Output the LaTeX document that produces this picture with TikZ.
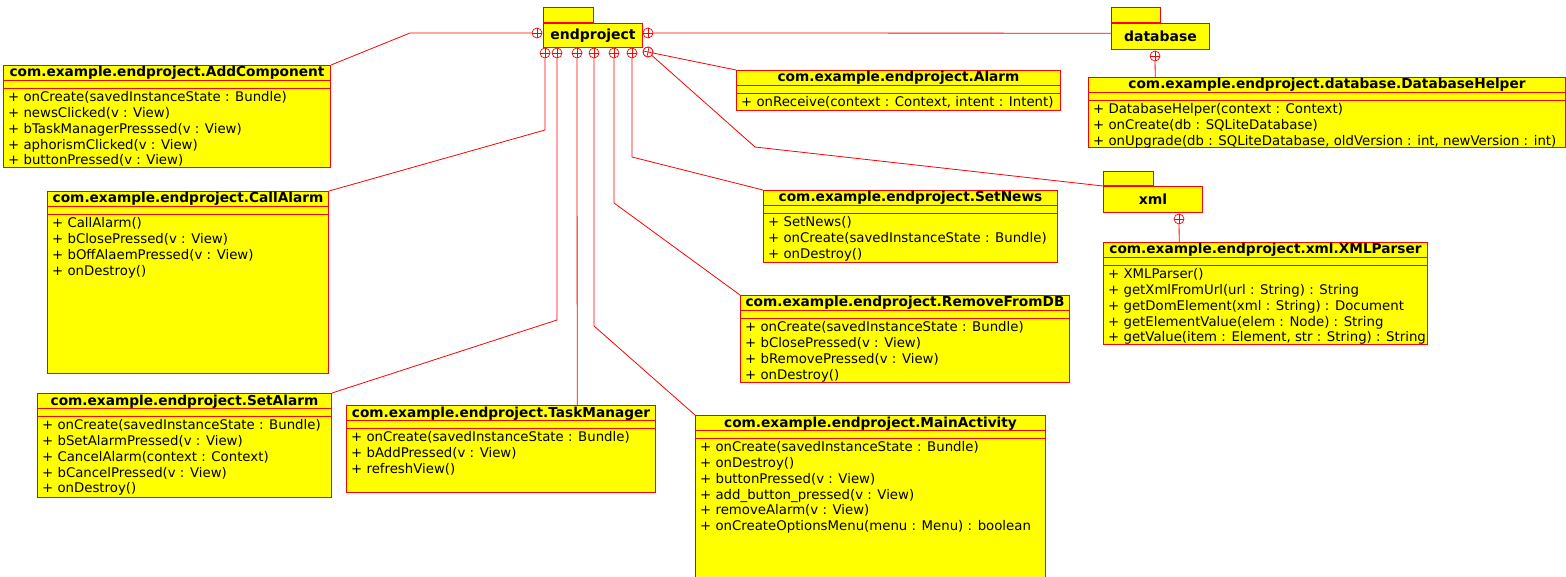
\documentclass[tikz,border=0pt]{standalone}
\usepackage{fontspec}
\setmainfont{DejaVu Sans}
\usetikzlibrary{positioning}

\definecolor{umlred}{RGB}{255,0,0}
\definecolor{umlyellow}{RGB}{255,255,0}

\tikzset{
  umlline/.style={draw=umlred, line width=0.8pt},
  classbox/.style={draw=umlred, fill=umlyellow, line width=1pt, inner sep=0pt},
  classtitle/.style={inner sep=0pt, font=\fontsize{13.7}{15.8}\selectfont\bfseries},
  classops/.style={inner sep=0pt, align=left, font=\fontsize{13.3}{15.8}\selectfont},
  pkgbody/.style={draw=umlred, fill=umlyellow, line width=1pt, inner sep=0pt,
    font=\fontsize{14}{16}\selectfont\bfseries},
  pkgtab/.style={draw=umlred, fill=umlyellow, line width=1pt},
  nest/.style={circle, draw=umlred, fill=white, line width=0.7pt, inner sep=0pt, minimum size=10pt}
}

% class box: name, corner, width, height, title, operations
\newcommand{\umlclass}[6]{%
  \node[classbox, minimum width=#3pt, minimum height=#4pt, anchor=north west] (#1) at #2 {};
  \draw[umlline] ([yshift=-15pt]#1.north west) -- ([yshift=-15pt]#1.north east)
                 ([yshift=-23pt]#1.north west) -- ([yshift=-23pt]#1.north east);
  \node[classtitle, anchor=base] at ([yshift=-12pt]#1.north) {#5};
  \node[classops, anchor=north west] at ([xshift=5pt,yshift=-25.5pt]#1.north west) {\strut#6};
}
% nesting symbol: name, centre, rotation
\newcommand{\nestmark}[3]{%
  \node[nest, rotate=#3] (#1) at #2 {};
  \draw[umlline, line width=0.7pt] (#1.north) -- (#1.south) (#1.east) -- (#1.west);
}

\begin{document}
\begin{tikzpicture}[x=1pt, y=-1pt]
  \useasboundingbox (0,0) rectangle (1566,577);

  %% Packages
  \node[pkgbody, minimum width=99pt, minimum height=24pt, anchor=north west] (endproject) at (543,23) {endproject};
  \draw[pkgtab] (endproject.north west) rectangle ++(50,-15);
  \node[pkgbody, minimum width=98pt, minimum height=26pt, anchor=north west] (database) at (1111,23) {database};
  \draw[pkgtab] (database.north west) rectangle ++(49,-15);
  \node[pkgbody, minimum width=99pt, minimum height=26pt, anchor=north west] (xml) at (1103,186) {xml};
  \draw[pkgtab] (xml.north west) rectangle ++(50,-14);

  %% Classes
  \umlclass{addcomp}{(3,65)}{327}{102}{com.example.endproject.AddComponent}
    {+ onCreate(savedInstanceState : Bundle)\\+ newsClicked(v : View)\\+ bTaskManagerPresssed(v : View)\\+ aphorismClicked(v : View)\\+ buttonPressed(v : View)}
  \umlclass{callalarm}{(47,191)}{281}{182}{com.example.endproject.CallAlarm}
    {+ CallAlarm()\\+ bClosePressed(v : View)\\+ bOffAlaemPressed(v : View)\\+ onDestroy()}
  \umlclass{setalarm}{(37,393)}{294}{104}{com.example.endproject.SetAlarm}
    {+ onCreate(savedInstanceState : Bundle)\\+ bSetAlarmPressed(v : View)\\+ CancelAlarm(context : Context)\\+ bCancelPressed(v : View)\\+ onDestroy()}
  \umlclass{taskman}{(346,405)}{309}{87}{com.example.endproject.TaskManager}
    {+ onCreate(savedInstanceState : Bundle)\\+ bAddPressed(v : View)\\+ refreshView()}
  \umlclass{mainact}{(695,415)}{350}{163}{com.example.endproject.MainActivity}
    {+ onCreate(savedInstanceState : Bundle)\\+ onDestroy()\\+ buttonPressed(v : View)\\+ add\_button\_pressed(v : View)\\+ removeAlarm(v : View)\\+ onCreateOptionsMenu(menu : Menu) : boolean}
  \umlclass{removedb}{(740,295)}{329}{87}{com.example.endproject.RemoveFromDB}
    {+ onCreate(savedInstanceState : Bundle)\\+ bClosePressed(v : View)\\+ bRemovePressed(v : View)\\+ onDestroy()}
  \umlclass{setnews}{(763,190)}{294}{72}{com.example.endproject.SetNews}
    {+ SetNews()\\+ onCreate(savedInstanceState : Bundle)\\+ onDestroy()}
  \umlclass{alarm}{(736,70)}{324}{40}{com.example.endproject.Alarm}
    {+ onReceive(context : Context, intent : Intent)}
  \umlclass{dbhelper}{(1088,77)}{477}{70}{com.example.endproject.database.DatabaseHelper}
    {+ DatabaseHelper(context : Context)\\+ onCreate(db : SQLiteDatabase)\\+ onUpgrade(db : SQLiteDatabase, oldVersion : int, newVersion : int)}
  \umlclass{xmlparser}{(1103,242)}{324}{102}{com.example.endproject.xml.XMLParser}
    {+ XMLParser()\\+ getXmlFromUrl(url : String) : String\\+ getDomElement(xml : String) : Document\\+ getElementValue(elem : Node) : String\\+ getValue(item : Element, str : String) : String}

  %% Nesting connectors
  \nestmark{nAdd}{(537,33)}{0}
  \nestmark{nDbPkg}{(648,33)}{0}
  \nestmark{nCall}{(545,53)}{0}
  \nestmark{nSetAlarm}{(557,53)}{0}
  \nestmark{nTask}{(577,53)}{0}
  \nestmark{nMain}{(594,53)}{0}
  \nestmark{nRemove}{(614,53)}{0}
  \nestmark{nNews}{(632,53)}{0}
  \nestmark{nXmlPkg}{(648,52)}{-42}
  \nestmark{nAlarm}{(648,52)}{-12}
  \nestmark{nDb}{(1155,56)}{0}
  \nestmark{nXml}{(1179,219)}{0}

  %% Free ends
  \coordinate (dbIn) at (1111,33.2);
  \coordinate (taskTop) at (577.2,405);
  \coordinate (dbhelperTop) at (1155.2,77);
  \coordinate (xmlparserTop) at (1179.2,242);

  \draw[umlline] (nAdd) -- (410,33) -- (addcomp.north east);
  \draw[umlline] (nDbPkg) -- (dbIn);
  \draw[umlline] (nCall) -- (545,130) -- (callalarm.north east);
  \draw[umlline] (nSetAlarm) -- (557,320) -- (setalarm.north east);
  \draw[umlline] (nTask) -- (taskTop);
  \draw[umlline] (nMain) -- (594,326) -- (mainact.north west);
  \draw[umlline] (nRemove) -- (614,203) -- (removedb.north west);
  \draw[umlline] (nNews) -- (632,157) -- (setnews.north west);
  \draw[umlline] (nAlarm) -- (alarm.north west);
  \draw[umlline] (nXmlPkg) -- (755,147) -- (xml.north west);
  \draw[umlline] (nDb) -- (dbhelperTop);
  \draw[umlline] (nXml) -- (xmlparserTop);
\end{tikzpicture}
\end{document}
